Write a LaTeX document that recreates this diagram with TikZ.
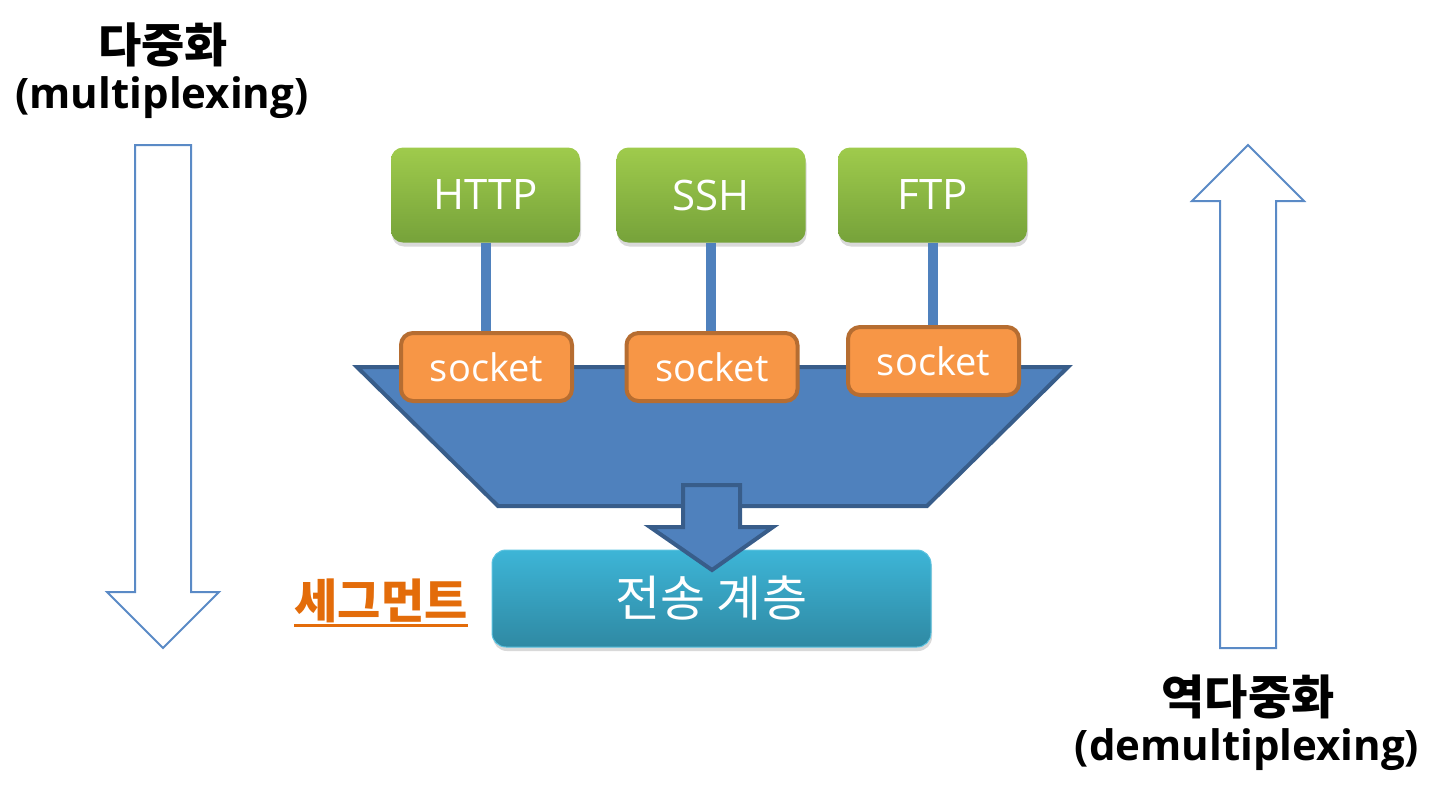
\documentclass[tikz,border=0pt]{standalone}
\usepackage{fontspec}
\setmainfont{Open Sans}
\newfontfamily\kr{Noto Sans CJK KR}
\usetikzlibrary{shadows}
\definecolor{grnT}{HTML}{9FCB4C}
\definecolor{grnB}{HTML}{76A23A}
\definecolor{blu}{HTML}{4F81BD}
\definecolor{bluD}{HTML}{385D8A}
\definecolor{org}{HTML}{F79646}
\definecolor{orgD}{HTML}{B66D31}
\definecolor{cyT}{HTML}{3DB5D7}
\definecolor{cyB}{HTML}{2F89A3}
\definecolor{cyL}{HTML}{5CC3E0}
\definecolor{segC}{HTML}{E36C0A}
\definecolor{arrC}{HTML}{5A8AC6}
\begin{document}
\begin{tikzpicture}[x=1pt,y=-1pt,
  appbox/.style={rounded corners=12pt, top color=grnT, bottom color=grnB, draw=none,
    minimum width=189pt, minimum height=95pt, text=white, inner sep=0pt,
    font=\fontsize{42}{50}\selectfont,
    drop shadow={shadow xshift=1pt, shadow yshift=-4pt, opacity=0.3}},
  sockbox/.style={rounded corners=12pt, fill=org, draw=orgD, line width=4pt,
    minimum width=171pt, minimum height=68pt, text=white, inner sep=0pt,
    font=\fontsize{38}{44}\selectfont},
  link/.style={draw=blu, line width=10pt},
  hollow/.style={draw=arrC, line width=2pt, fill=white, line join=miter},
  funnel/.style={fill=blu, draw=bluD, line width=4pt, line join=miter},
  krtitle/.style={font=\kr\fontsize{47}{54}\selectfont\bfseries, text=black, inner sep=0pt},
  entitle/.style={font=\fontsize{42}{48}\selectfont\bfseries, text=black, inner sep=0pt}
]
\useasboundingbox (0,0) rectangle (1448,804);

% hollow arrows
\draw[hollow] (135,145) -- (191,145) -- (191,592) -- (219,592) -- (163,648)
  -- (107,592) -- (135,592) -- cycle;
\draw[hollow] (1220,648) -- (1276,648) -- (1276,201) -- (1304,201) -- (1248,145)
  -- (1192,201) -- (1220,201) -- cycle;

% titles
\node[krtitle] (t1) at (163,45) {다중화};
\node[entitle] (t1b) at (162,98) {(multiplexing)};
\node[krtitle] (t2) at (1248,697) {역다중화};
\node[entitle] (t2b) at (1247,750) {(demultiplexing)};

% funnel
\draw[funnel] (357,367) -- (1068,367) -- (927,506) -- (498,506) -- cycle;

% application boxes
\node[appbox] (http) at (485.5,195) {HTTP};
\node[appbox] (ssh) at (711,195) {SSH};
\node[appbox] (ftp) at (932.5,195) {FTP};

% sockets
\coordinate (s1) at (486.5,367);
\coordinate (s2) at (712,367);
\coordinate (s3) at (933.5,361);
\draw[link] (http.south) -- (http.south |- s1);
\draw[link] (ssh.south) -- (ssh.south |- s2);
\draw[link] (ftp.south) -- (ftp.south |- s3);
\node[sockbox] (sock1) at (s1) {socket};
\node[sockbox] (sock2) at (s2) {socket};
\node[sockbox] (sock3) at (s3) {socket};

% transport layer
\node[rounded corners=14pt, top color=cyT, bottom color=cyB, draw=cyL, line width=1pt,
  minimum width=439pt, minimum height=97pt, inner sep=0pt, text=white,
  font=\kr\fontsize{49}{56}\selectfont,
  drop shadow={shadow xshift=1pt, shadow yshift=-4pt, opacity=0.3}] (tl) at (711.5,598.5) {전송 계층};

% block arrow
\draw[funnel] (683,485) -- (740,485) -- (740,527) -- (773,527) -- (712,570)
  -- (650,527) -- (683,527) -- cycle;

% segment label
\node[text=segC, font=\kr\fontsize{47}{54}\selectfont\bfseries, inner sep=0pt] (seg) at (381,601) {세그먼트};
\draw[segC, line width=2.5pt] ([yshift=-2pt]seg.south west) -- ([yshift=-2pt]seg.south east);
\end{tikzpicture}
\end{document}
